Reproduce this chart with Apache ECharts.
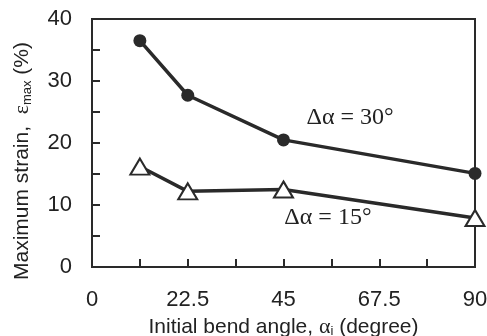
<!DOCTYPE html>
<html><head><meta charset="utf-8">
<script src="https://cdn.jsdelivr.net/npm/echarts@6/dist/echarts.min.js"></script>
<style>html,body{margin:0;padding:0;background:#fff}#c{width:487px;height:336px}</style>
</head><body><div id="c"></div>
<script>
var angles = [11.25, 22.5, 45, 90];
var strain30 = [36.5, 27.7, 20.5, 15.1];
var strain15 = [16.2, 12.2, 12.5, 7.9];
var xTicks = [0, 22.5, 45, 67.5, 90];
var yTicks = [0, 10, 20, 30, 40];
var label30 = 'Δα = 30°';
var label15 = 'Δα = 15°';

var ink = '#2a2a2a';
function pairs(xs, ys){ return xs.map(function(x,i){ return [x, ys[i]]; }); }

var chart = echarts.init(document.getElementById('c'));
chart.setOption({
  animation: false,
  backgroundColor: '#fff',
  grid: { left: 92, right: 12, top: 19, bottom: 69, containLabel: false, outerBoundsMode: 'none',
    show: true, borderColor: ink, borderWidth: 2, backgroundColor: 'transparent' },
  xAxis: {
    type: 'value', min: 0, max: 90, interval: 22.5,
    axisLine: { lineStyle: { color: ink, width: 2 } },
    axisTick: { inside: true, length: 8, lineStyle: { color: ink, width: 2 } },
    minorTick: { show: true, splitNumber: 2, length: 8, lineStyle: { color: ink, width: 2 } },
    splitLine: { show: false },
    axisLabel: { color: '#222', fontSize: 22, fontFamily: 'Liberation Sans', margin: 22,
      formatter: function(v){ return xTicks.indexOf(v) >= 0 ? String(v) : ''; } },
    name: '{a|Initial bend angle, }{g|α}{s|i}{a| (degree)}',
    nameLocation: 'middle', nameGap: 47,
    nameTextStyle: { rich: {
      a: { fontSize: 21, fontFamily: 'Liberation Sans', color: '#222' },
      g: { fontSize: 22, fontFamily: 'Liberation Serif', color: '#222' },
      s: { fontSize: 13, fontFamily: 'Liberation Sans', color: '#222', padding: [10,0,0,0] }
    } }
  },
  yAxis: {
    type: 'value', min: 0, max: 40, interval: 10,
    axisLine: { lineStyle: { color: ink, width: 2 } },
    axisTick: { inside: true, length: 8, lineStyle: { color: ink, width: 2 } },
    minorTick: { show: true, splitNumber: 2, length: 8, lineStyle: { color: ink, width: 2 } },
    splitLine: { show: false },
    axisLabel: { color: '#222', fontSize: 22, fontFamily: 'Liberation Sans', margin: 20 },
    name: '{a|Maximum strain,  }{g|ε}{s|max}{a| (%)}',
    nameLocation: 'middle', nameGap: 58, nameRotate: 90,
    nameTextStyle: { padding: [0, 36, 0, 0], rich: {
      a: { fontSize: 21, fontFamily: 'Liberation Sans', color: '#222' },
      g: { fontSize: 22, fontFamily: 'Liberation Serif', color: '#222' },
      s: { fontSize: 13, fontFamily: 'Liberation Sans', color: '#222', padding: [10,0,0,0] }
    } }
  },
  series: [
    { type: 'line', data: pairs(angles, strain30), symbol: 'circle', symbolSize: 13,
      lineStyle: { color: ink, width: 3.5 }, itemStyle: { color: ink, borderColor: ink, borderWidth: 0 },
      z: 3 },
    { type: 'line', data: pairs(angles, strain15), symbol: 'triangle', symbolSize: [19, 16],
      lineStyle: { color: ink, width: 3.5 }, itemStyle: { color: '#fff', borderColor: ink, borderWidth: 2 },
      z: 4 }
  ],
  graphic: []
});

function place(){
  var p30 = chart.convertToPixel({gridIndex:0}, [50.4, 24]);
  var p15 = chart.convertToPixel({gridIndex:0}, [45.2, 7.9]);
  chart.setOption({ graphic: [
    { type: 'text', x: p30[0], y: p30[1], style: { text: label30, fontSize: 24, fontFamily: 'Liberation Serif', fill: '#222', textAlign: 'left', textVerticalAlign: 'middle' } },
    { type: 'text', x: p15[0], y: p15[1], style: { text: label15, fontSize: 24, fontFamily: 'Liberation Serif', fill: '#222', textAlign: 'left', textVerticalAlign: 'middle' } }
  ]});
}
place();
</script></body></html>
